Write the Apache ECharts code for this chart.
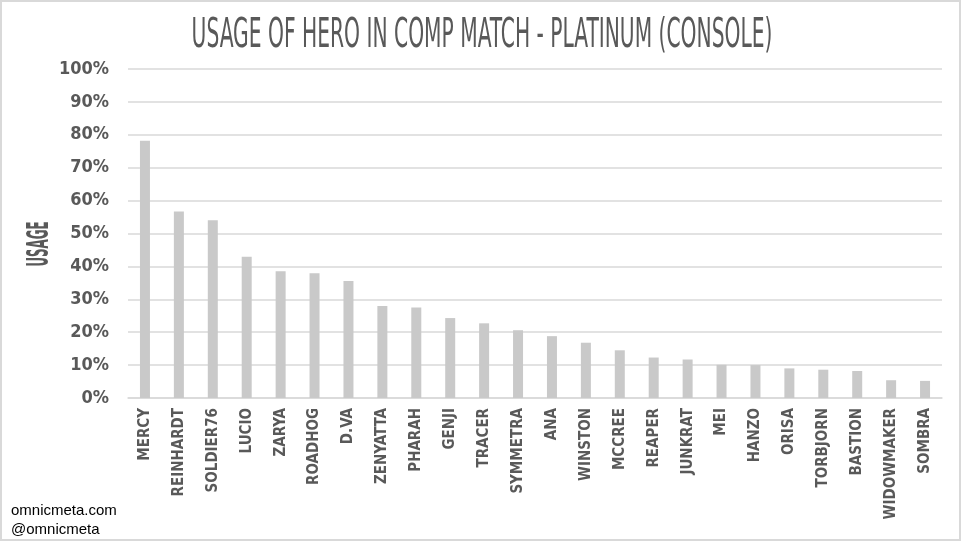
<!DOCTYPE html>
<html>
<head>
<meta charset="utf-8">
<script src="https://cdn.jsdelivr.net/npm/echarts@6/dist/echarts.min.js"></script>
<style>
	html, body { margin: 0; padding: 0; background: #fff; }
	#chart { width: 961px; height: 541px; box-sizing: border-box; border: 2px solid #d9d9d9; }
</style>
</head>
<body>
<div id="chart"></div>
<script>
var heroes = ['MERCY', 'REINHARDT', 'SOLDIER76', 'LUCIO', 'ZARYA', 'ROADHOG', 'D.VA', 'ZENYATTA',
	'PHARAH', 'GENJI', 'TRACER', 'SYMMETRA', 'ANA', 'WINSTON', 'MCCREE', 'REAPER', 'JUNKRAT',
	'MEI', 'HANZO', 'ORISA', 'TORBJORN', 'BASTION', 'WIDOWMAKER', 'SOMBRA'];
var usage = [78.2, 56.7, 54.0, 42.9, 38.5, 37.9, 35.6, 28.0, 27.5, 24.3, 22.7, 20.6, 18.8, 16.8,
	14.5, 12.3, 11.7, 10.1, 10.0, 9.0, 8.6, 8.2, 5.4, 5.2];
var titleText = 'USAGE OF HERO IN COMP MATCH - PLATINUM (CONSOLE)';
var axisName = 'USAGE';
var credits = ['omnicmeta.com', '@omnicmeta'];

var narrow = '"Liberation Sans Narrow", "DejaVu Sans Condensed", "Liberation Sans", sans-serif';
var grey = '#595959';

var chart = echarts.init(document.getElementById('chart'));

var option = {
	animation : false,
	grid : {
		left : 126,
		right : 17,
		top : 67,
		bottom : 141
	},
	graphic : [{
		type : 'text',
		x : 480,
		y : 35,
		scaleX : 0.5625,
		style : {
			text : titleText,
			x : 0,
			y : 0,
			align : 'center',
			verticalAlign : 'middle',
			fill : grey,
			font : '40px ' + narrow
		}
	}, {
		type : 'text',
		x : 38,
		y : 242,
		rotation : Math.PI / 2,
		scaleX : 0.44,
		style : {
			text : axisName,
			x : 0,
			y : 0,
			align : 'center',
			verticalAlign : 'middle',
			fill : grey,
			font : 'bold 30px ' + narrow
		}
	}, {
		type : 'text',
		left : 9,
		top : 499,
		style : {
			text : credits.join('\n'),
			fill : '#000',
			font : '15px "Liberation Sans", Arial, sans-serif',
			lineHeight : 19
		}
	}],
	xAxis : {
		type : 'category',
		data : heroes,
		axisTick : { show : false },
		axisLine : { lineStyle : { color : '#d9d9d9', width : 1.5 } },
		axisLabel : {
			rotate : 90,
			interval : 0,
			margin : 10,
			color : grey,
			fontFamily : narrow,
			fontWeight : 'bold',
			fontSize : 15
		}
	},
	yAxis : {
		type : 'value',
		min : 0,
		max : 100,
		interval : 10,
		axisLine : { show : false },
		axisTick : { show : false },
		splitLine : { lineStyle : { color : '#d9d9d9', width : 1.5 } },
		axisLabel : {
			formatter : '{value}%',
			margin : 19,
			color : grey,
			fontFamily : narrow,
			fontWeight : 'bold',
			fontSize : 18
		}
	},
	series : [{
		type : 'bar',
		data : usage,
		barWidth : 10,
		itemStyle : { color : '#c9c9c9' }
	}]
};

chart.setOption(option);
</script>
</body>
</html>
